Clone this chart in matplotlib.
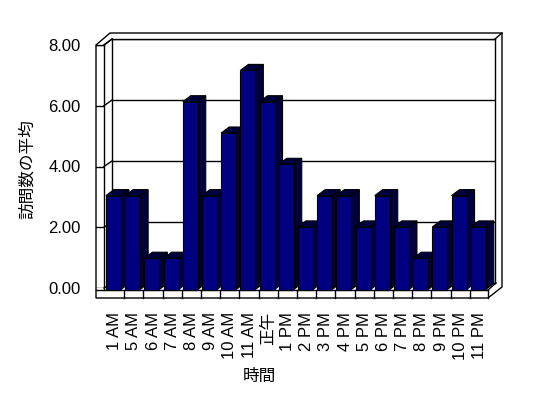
import matplotlib
matplotlib.use("Agg")
import matplotlib.pyplot as plt
import matplotlib.transforms as mtransforms
from matplotlib.patches import Polygon
from matplotlib.lines import Line2D
import numpy as np

plt.rcParams['font.family'] = ['Liberation Sans', 'Noto Sans CJK JP', 'DejaVu Sans']

categories = ["1 AM", "5 AM", "6 AM", "7 AM", "8 AM", "9 AM", "10 AM", "11 AM", "正午",
              "1 PM", "2 PM", "3 PM", "4 PM", "5 PM", "6 PM", "7 PM", "8 PM", "9 PM",
              "10 PM", "11 PM"]
values = [3, 3, 1, 1, 6, 3, 5, 7, 6, 4, 2, 3, 3, 2, 3, 2, 1, 2, 3, 2]
yticks = [0, 2, 4, 6, 8]
ylabel = "訪問数の平均"
xlabel = "時間"

W, H = 548, 398
fig = plt.figure(figsize=(W / 100, H / 100), dpi=100)
fig.patch.set_facecolor("white")


def frac(x0, y0, x1, y1):
    """pixel box (top-origin) -> figure fraction rect"""
    return [x0 / W, 1 - y1 / H, (x1 - x0) / W, (y1 - y0) / H]


# background canvas in pixel coordinates (for walls / floor decoration)
axbg = fig.add_axes([0, 0, 1, 1])
axbg.set_xlim(0, W)
axbg.set_ylim(H, 0)
axbg.axis("off")
axbg.set_zorder(-5)

LW = 1.0
ol = Polygon([(96, 45), (110, 33), (502, 33), (502, 287), (488, 298), (96, 298)],
             closed=True, facecolor="white", edgecolor="black", lw=LW)
axbg.add_patch(ol)
for seg in [[(104, 45), (104, 290)], [(96, 45), (104, 45)], [(104, 45), (112, 39)],
            [(495, 39), (502, 33)], [(96, 290), (488, 290)], [(488, 290), (496, 283)],
            [(488, 298), (488, 290)]]:
    xs, ys = zip(*seg)
    axbg.add_line(Line2D(xs, ys, color="black", lw=LW))

# back wall with gridlines
axb = fig.add_axes(frac(112, 39, 495, 283))
axb.set_xlim(0, 1)
axb.set_ylim(0, 8)
axb.set_yticks(yticks)
axb.set_xticks([])
axb.tick_params(left=False, labelleft=False)
axb.yaxis.grid(True, color="black", lw=LW)
for s in axb.spines.values():
    s.set_linewidth(LW)
axb.set_zorder(-4)

# left wall front edge with value labels
axl = fig.add_axes(frac(96, 45, 104, 288))
axl.set_xlim(0, 1)
axl.set_ylim(0, 8)
axl.set_facecolor("none")
axl.set_yticks(yticks)
axl.set_yticklabels([f"{v:.2f}" for v in yticks], fontsize=12)
axl.set_xticks([])
axl.tick_params(axis="y", length=0, pad=11)
axl.yaxis.grid(True, color="black", lw=LW)
for s in axl.spines.values():
    s.set_visible(False)
axl.set_zorder(-3)

# diagonals across left wall inner face, from label scale to back wall scale
inv_bg = axbg.transData.inverted()
for v in yticks:
    p1 = inv_bg.transform(axl.transData.transform((1, v)))
    p2 = inv_bg.transform(axb.transData.transform((0, v)))
    axbg.add_line(Line2D([p1[0], p2[0]], [p1[1], p2[1]], color="black", lw=LW))

# bars axes (front plane)
ax = fig.add_axes(frac(105, 39.1, 489, 289.5))
ax.set_facecolor("none")
n = len(categories)
ax.set_xlim(-0.5, n - 0.5)
ax.set_ylim(0, 8)
for s in ax.spines.values():
    s.set_visible(False)
ax.set_yticks([])
x = np.arange(n)
ax.set_xticks(x)
ax.set_xticklabels(categories, rotation=90, fontsize=12)
ax.tick_params(axis="x", length=0, pad=16)
ax.set_zorder(-2)

# floor front dividers at category boundaries
blend = mtransforms.blended_transform_factory(ax.transData, axbg.transData)
for k in range(1, n):
    axbg.add_line(Line2D([k - 0.5, k - 0.5], [290, 298], color="black", lw=LW,
                         transform=blend))

# depth offsets in data units
inv = ax.transData.inverted()
o = ax.transData.transform((0, 0))
d = inv.transform((o[0] + 8, o[1] + 6)) - inv.transform(o)
ddx, ddy = d

bw = 0.78
shift = -0.06
front = "#000080"
dark = "#00003c"
bars = ax.bar(x + shift, values, width=bw, color=front, edgecolor="black", lw=0.8)
for i, (p, v) in enumerate(zip(bars, values)):
    l = i + shift - bw / 2
    r = i + shift + bw / 2
    side = Polygon([(r, 0), (r + ddx, ddy), (r + ddx, v + ddy), (r, v)], closed=True,
                   facecolor=dark, edgecolor="black", lw=0.8, clip_on=False,
                   zorder=3 + 3 * i)
    top = Polygon([(l, v), (r, v), (r + ddx, v + ddy), (l + ddx, v + ddy)], closed=True,
                  facecolor=dark, edgecolor="black", lw=0.8, clip_on=False,
                  zorder=4 + 3 * i)
    ax.add_patch(side)
    ax.add_patch(top)
    p.set_zorder(5 + 3 * i)
    p.set_clip_on(False)

fig.text(27 / W, 1 - 169 / H, ylabel, rotation=90, ha="center", va="center", fontsize=12)
fig.text(259 / W, 1 - 376 / H, xlabel, ha="center", va="center", fontsize=12)

fig.savefig("out.png", dpi=100, facecolor="white")
